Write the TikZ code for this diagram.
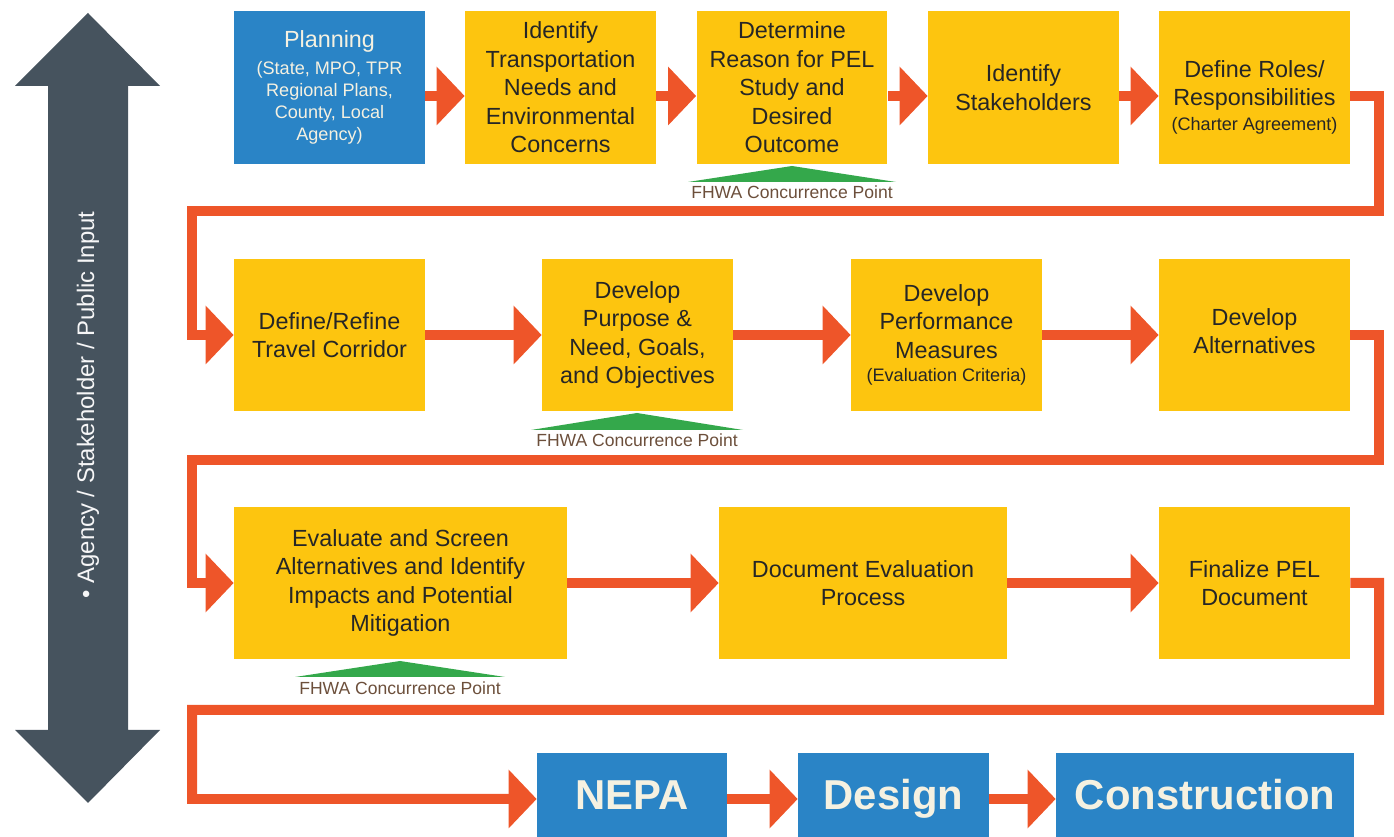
\documentclass[tikz,border=0pt]{standalone}
\usepackage{fontspec}
\setmainfont{Liberation Sans}
\usepackage{tikz}
\usetikzlibrary{arrows.meta}

\definecolor{pelblue}{HTML}{2A84C6}
\definecolor{pelyellow}{HTML}{FDC50F}
\definecolor{pelorange}{HTML}{EE5529}
\definecolor{pelgray}{HTML}{46535E}
\definecolor{pelgreen}{HTML}{34A84B}
\definecolor{peltext}{HTML}{262626}
\definecolor{pelcream}{HTML}{F5F1E1}
\definecolor{pelbrown}{HTML}{6C4F3B}

\newcommand{\pelsmall}{\fontsize{10.3}{12.5}\selectfont}

\begin{document}
\begin{tikzpicture}[x=0.02cm, y=-0.02cm, pelbox/.style={rectangle, fill=pelyellow, text=peltext, minimum width=3.82cm, minimum height=3.06cm, align=center, inner sep=0pt, font=\fontsize{13.3}{16.2}\selectfont}, bluebox/.style={pelbox, fill=pelblue, text=pelcream}, phase/.style={rectangle, fill=pelblue, text=pelcream, minimum height=1.68cm, text height=17pt, text depth=0pt, inner sep=0pt, font=\fontsize{23.8}{28}\selectfont\bfseries}, flow/.style={-{Triangle[length=0.56cm, width=1.14cm]}, line width=0.2cm, draw=pelorange}, fhwa/.style={text=pelbrown, inner sep=0pt, font=\fontsize{10}{12}\selectfont}]
            \useasboundingbox (0,0) rectangle (1394,837);
            % input arrow
            \fill[pelgray] (88,13) -- (160,86) -- (128,86) -- (128,730) -- (160,730) -- (88,803) -- (15,730) -- (48,730) -- (48,86) -- (15,86) -- cycle;
            \node[rotate=90, text=white!95!pelgray, font=\fontsize{13.6}{16}\selectfont] (input) at (88,405) {• Agency / Stakeholder / Public Input};

            % nodes
            \node[bluebox, font=\pelsmall] (plan) at (329.5,87.5) {{\fontsize{13.3}{16}\selectfont Planning}\\[3pt](State, MPO, TPR\\Regional Plans,\\County, Local\\Agency)};
            \node[pelbox] (needs) at (560.5,87.5) {Identify\\Transportation\\Needs and\\Environmental\\Concerns};
            \node[pelbox] (reason) at (792,87.5) {Determine\\Reason for PEL\\Study and\\Desired\\Outcome};
            \node[pelbox] (stake) at (1023.5,87.5) {Identify\\Stakeholders};
            \node[pelbox] (roles) at (1254.5,87.5) {Define Roles/\\Responsibilities\\[-2pt]{\pelsmall (Charter Agreement)}\\[-25.2pt]\mbox{}};

            \node[pelbox] (corridor) at (329.5,335) {Define/Refine\\Travel Corridor};
            \node[pelbox] (purpose) at (637.5,335) {Develop\\Purpose \&\\Need, Goals,\\and Objectives};
            \node[pelbox] (perf) at (946.5,335) {Develop\\Performance\\Measures\\[-2.6pt]{\pelsmall (Evaluation Criteria)}};
            \node[pelbox] (alts) at (1254.5,335) {Develop\\Alternatives\\[-11.7pt]\mbox{}};

            \node[pelbox, minimum width=6.66cm] (evaluate) at (400.5,583) {Evaluate and Screen\\Alternatives and Identify\\Impacts and Potential\\Mitigation};
            \node[pelbox, minimum width=5.76cm] (document) at (863,583) {Document Evaluation\\Process};
            \node[pelbox] (finalize) at (1254.5,583) {Finalize PEL\\Document};

            \node[phase, minimum width=3.8cm] (nepa) at (632,795) {NEPA};
            \node[phase, minimum width=3.82cm] (design) at (893.5,795) {Design};
            \node[phase, minimum width=5.96cm] (construction) at (1205,795) {Construction};

            % concurrence points
            \fill[pelgreen] (688,182) -- (792,166) -- (896,182) -- cycle;
            \node[fhwa] (fhwa1) at (792,192) {FHWA Concurrence Point};
            \fill[pelgreen] (531,430) -- (637,413) -- (743,430) -- cycle;
            \node[fhwa] (fhwa2) at (637,440) {FHWA Concurrence Point};
            \fill[pelgreen] (295,677) -- (400,661) -- (505,677) -- cycle;
            \node[fhwa] (fhwa3) at (400,688) {FHWA Concurrence Point};

            % turns
            \coordinate (turn1) at (1379,211);
            \coordinate (turn2) at (1379,460);
            \coordinate (turn3) at (1379,710);

            % edges
            \draw[flow] ([yshift=-0.17cm]plan.east) -- ([yshift=-0.17cm]needs.west);
            \draw[flow] ([yshift=-0.17cm]needs.east) -- ([yshift=-0.17cm]reason.west);
            \draw[flow] ([yshift=-0.17cm]reason.east) -- ([yshift=-0.17cm]stake.west);
            \draw[flow] ([yshift=-0.17cm]stake.east) -- ([yshift=-0.17cm]roles.west);
            \draw[flow] ([yshift=-0.17cm]roles.east) -| (turn1) -| (192,335) -- (corridor.west);

            \draw[flow] (corridor) -- (purpose);
            \draw[flow] (purpose) -- (perf);
            \draw[flow] (perf) -- (alts);
            \draw[flow] (alts.east) -| (turn2) -| (192,583) -- (evaluate.west);

            \draw[flow] (evaluate) -- (document);
            \draw[flow] (document) -- (finalize);
            \draw[flow] (finalize.east) -| (turn3) -| (192,799) -- ([yshift=-0.08cm]nepa.west);

            \draw[flow] ([yshift=-0.08cm]nepa.east) -- ([yshift=-0.08cm]design.west);
            \draw[flow] ([yshift=-0.08cm]design.east) -- ([yshift=-0.08cm]construction.west);
        \end{tikzpicture}
\end{document}
